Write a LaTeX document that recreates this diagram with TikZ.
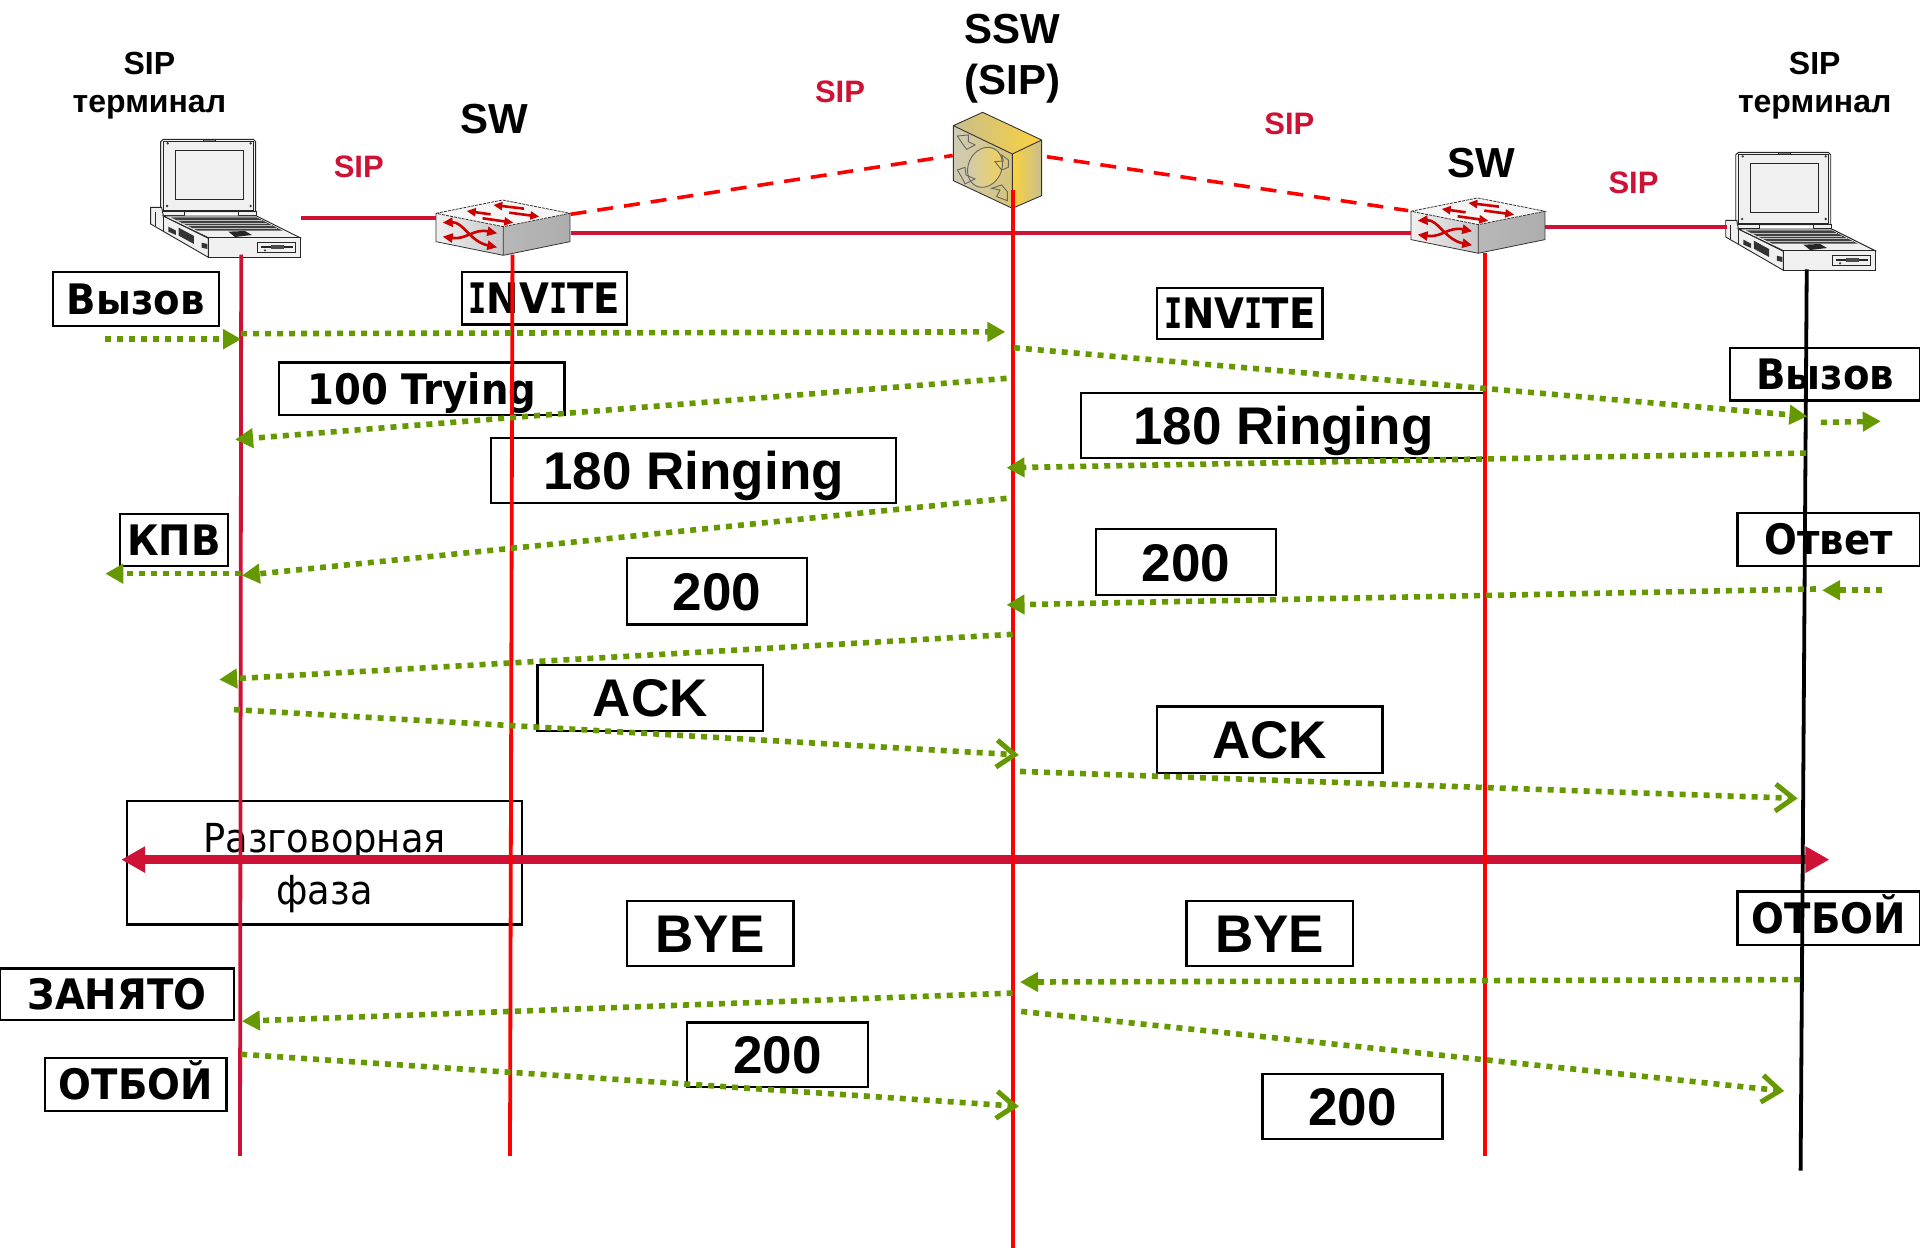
\documentclass[tikz,border=0pt]{standalone}
\usepackage{fontspec}
\setmainfont{Liberation Sans}
\newfontfamily\tah[FakeStretch=0.92]{DejaVu Sans}
\newfontfamily\tahI[FakeStretch=0.72]{DejaVu Sans Mono}
\usetikzlibrary{arrows.meta}
\definecolor{crim}{HTML}{CE1236}
\definecolor{grn}{HTML}{669900}
\definecolor{goldA}{HTML}{FBD23C}
\definecolor{goldB}{HTML}{CFCBB4}
\definecolor{goldC}{HTML}{C8BE90}
\tikzset{
  x=1.2245pt,y=-1.2245pt,
  boxbase/.style={draw=black,fill=white,line width=2.2pt,inner sep=0pt,align=center},
  boxA/.style={boxbase,font=\bfseries\fontsize{53}{60}\selectfont,text height=38pt,text depth=0pt},
  boxT/.style={boxbase,font=\tah\bfseries\fontsize{42}{48}\selectfont,text height=31pt,text depth=0pt},
  boxP/.style={boxbase,font=\tah\fontsize{40}{51.4}\selectfont},
  head/.style={font=\bfseries\fontsize{42}{51}\selectfont,align=center,inner sep=0pt},
  term/.style={font=\bfseries\fontsize{32}{38}\selectfont,align=center,inner sep=0pt},
  siplab/.style={font=\bfseries\fontsize{31}{36}\selectfont,text=crim,inner sep=0pt},
  life/.style={line width=3.8pt},
  link/.style={line width=4pt,draw=crim},
  ctrl/.style={line width=3.6pt,draw=red,dash pattern=on 16pt off 11pt},
  msgbase/.style={draw=grn,line width=5.6pt,dash pattern=on 6pt off 6pt},
  msgT/.style={msgbase,-{Triangle[length=18pt,width=19pt,fill=grn]}},
  msgO/.style={msgbase,-{Straight Barb[length=18pt,width=27pt,line width=5pt]}},
  talk/.style={draw=crim,line width=9pt,{Triangle[length=24pt,width=25pt]}-{Triangle[length=24pt,width=25pt]}},
  laptop/.pic={
    \begin{scope}[x=0.3333pt,y=-0.3333pt,line width=0.9pt,draw=black!85]
      \draw[fill=black!6] (182,125)--(190,118)--(460,118)--(467,125)--(467,335)--(182,335)--cycle;
      \draw[line width=.5pt] (190,125) rectangle (460,330);
      \draw[fill=black!6] (226,152) rectangle (431,298);
      \draw[fill=black!50] (310,118) rectangle (345,124);
      \foreach \px/\py in {203/130,452/130,201/318,452/318}
        \fill[black!80] (\px,\py) circle (1.3pt);
      \draw[fill=black!6] (187,335) rectangle (253,347);
      \draw[fill=black!6] (415,335) rectangle (470,347);
      \draw[fill=black!6] (152,322)--(185,322)--(190,348)--(325,415)--(325,472)--(152,372)--cycle;
      \draw (165,335)--(165,378) (190,348)--(190,392);
      \draw[fill=black!6] (190,348)--(470,348)--(600,413)--(325,413)--cycle;
      \fill[black!75] (212,352)--(470,352)--(548,392)--(292,392)--cycle;
      \foreach \k in {360,368,...,388} \draw[black!25,line width=.3pt] ({212+(\k-352)*2},\k)--({470+(\k-352)*1.95},\k);
      \fill[black!85] (385,395)--(435,393)--(456,405)--(405,411)--cycle;
      \draw[fill=black!6] (325,413) rectangle (600,472);
      \draw[fill=black!6] (473,428) rectangle (585,458);
      \draw[line width=1.3pt] (482,441)--(580,441);
      \fill[black!70] (512,436) rectangle (553,447);
      \fill[black!70] (495,451) circle (1.3pt);
      \fill[black!80] (205,380)--(228,392)--(228,405)--(205,395)--cycle;
      \fill[black!80] (236,383)--(282,408)--(282,432)--(236,407)--cycle;
      \fill[black!80] (305,428)--(322,432)--(322,447)--(305,443)--cycle;
    \end{scope}
  },
  switchbox/.pic={
    \begin{scope}[x=0.3333pt,y=-0.3333pt,line width=.8pt]
      \shade[left color=black!6,right color=black!22] (1008,340)--(1210,380)--(1210,466)--(1008,425)--cycle;
      \shade[left color=black!28,middle color=black!6,right color=black!32] (1210,380)--(1410,340)--(1410,425)--(1210,466)--cycle;
      \fill[black!4] (1008,340)--(1208,300)--(1410,340)--(1210,380)--cycle;
      \draw[black!80,dash pattern=on 3pt off 1pt] (1008,340)--(1208,300)--(1410,340)--(1210,380)--cycle;
      \draw[black!80] (1008,340)--(1008,425)--(1210,466)--(1410,425)--(1410,340) (1210,380)--(1210,466);
      \begin{scope}[draw=red!80!black,fill=red!80!black,line width=2.6pt]
        \draw[{Triangle[length=10pt,width=9pt]}-{Triangle[length=10pt,width=9pt]}] (1028,368) .. controls (1090,365) and (1110,425) .. (1192,442);
        \draw[{Triangle[length=10pt,width=9pt]}-{Triangle[length=10pt,width=9pt]}] (1028,410) .. controls (1100,420) and (1120,385) .. (1192,400);
        \draw[{Triangle[length=9pt,width=8pt]}-] (1100,333)--(1172,343);
        \draw[{Triangle[length=9pt,width=8pt]}-] (1180,315)--(1272,326);
        \draw[-{Triangle[length=9pt,width=8pt]}] (1148,355)--(1240,368);
        \draw[-{Triangle[length=9pt,width=8pt]}] (1228,338)--(1318,350);
      \end{scope}
    \end{scope}
  },
  softsw/.pic={
    \begin{scope}[x=0.3333pt,y=-0.3333pt,line width=1pt]
      \shade[left color=goldC,right color=goldA] (160,137)--(248,97)--(425,180)--(337,222)--cycle;
      \shade[left color=goldA,right color=goldC] (337,222)--(425,180)--(425,347)--(337,385)--cycle;
      \shade[left color=goldB,right color=goldC!70!goldA] (160,137)--(337,222)--(337,385)--(160,302)--cycle;
      \draw[black!80,line width=.9pt] (160,137)--(248,97)--(425,180)--(425,347)--(337,385)--(160,302)--cycle (160,137)--(337,222)--(425,180) (337,222)--(337,385);
      \shade[left color=goldB,right color=goldA!80!goldB,rotate around={-25:(255,262)}] (255,262) ellipse [x radius=50,y radius=62];
      \draw[black!60,line width=.9pt,rotate around={-25:(255,262)}] (255,262) ellipse [x radius=50,y radius=62];
      \draw[black!60,line width=.9pt] (172,168)--(205,165)--(205,185)--(225,195)--(200,208)--(190,195)--cycle
        (325,240)--(305,225)--(310,243)--(285,245)--(305,270)--(325,262)--cycle
        (172,270)--(195,262)--(198,285)--(225,297)--(195,312)--(185,292)--cycle
        (322,362)--(290,350)--(300,330)--(275,325)--(305,315)--(322,335)--cycle;
    \end{scope}
  }
}
\newcommand{\boxlab}[7]{%
  \pgfmathsetlengthmacro\bw{(#4-#2)*1.2245pt}%
  \pgfmathsetlengthmacro\bh{(#5-#3)*1.2245pt}%
  \node[#6,minimum width=\bw,minimum height=\bh] (#1) at ({(#2+#4)/2},{(#3+#5)/2}) {#7};}
\newcommand{\msg}[6]{%
  \coordinate (#2a) at (#3,#4);
  \coordinate (#2b) at (#5,#6);
  \draw[#1] (#2a) -- (#2b);}
\begin{document}
\begin{tikzpicture}
\useasboundingbox (0,0) rectangle (1568,1019.2);
% label boxes
\boxlab{callL}{43}{222}{179}{266}{boxT}{Вызов}
\boxlab{invL}{377}{222}{512}{265}{boxT}{{\tahI I}NV{\tahI I}TE}
\boxlab{tryL}{228}{296}{461}{339}{boxT}{100 Trying}
\boxlab{ringL}{401}{358}{732}{411}{boxA}{180 Ringing}
\boxlab{invR}{945}{235}{1080}{277}{boxT}{{\tahI I}NV{\tahI I}TE}
\boxlab{callR}{1413}{284}{1568}{327}{boxT}{Вызов}
\boxlab{ringR}{883}{321}{1213}{374}{boxA}{180 Ringing}
\boxlab{kpv}{98}{420}{186}{462}{boxT}{КПВ}
\boxlab{okL}{512}{456}{659}{510}{boxA}{200}
\boxlab{okR}{895}{432}{1042}{486}{boxA}{200}
\boxlab{ans}{1419}{419}{1568}{462}{boxT}{Ответ}
\boxlab{ackL}{439}{543}{623}{597}{boxA}{ACK}
\boxlab{ackR}{945}{577}{1129}{631}{boxA}{ACK}
\boxlab{phase}{104}{654}{426}{755}{boxP}{\rule{0pt}{40pt}Разговорная\\фаза}
\boxlab{hangR}{1419}{728}{1568}{772}{boxT}{ОТБОЙ}
\boxlab{byeL}{512}{736}{648}{789}{boxA}{BYE}
\boxlab{byeR}{969}{736}{1105}{789}{boxA}{BYE}
\boxlab{busy}{0}{791}{191}{833}{boxT}{ЗАНЯТО}
\boxlab{hangL}{37}{864}{185}{907}{boxT}{ОТБОЙ}
\boxlab{okL2}{561}{835}{709}{888}{boxA}{200}
\boxlab{okR2}{1031}{877}{1178}{930}{boxA}{200}
% headings
\node[term] (t1) at (122,70) {SIP\\терминал};
\node[term] (t2) at (1482,70) {SIP\\терминал};
\node[head] (ssw) at (827,48) {SSW\\(SIP)};
\node[head] (sw1t) at (404,97) {SW};
\node[head] (sw2t) at (1210,133) {SW};
\node[siplab] (s1) at (293,136) {SIP};
\node[siplab] (s2) at (686,75) {SIP};
\node[siplab] (s3) at (1053,101) {SIP};
\node[siplab] (s4) at (1334,149) {SIP};
% devices
\pic (lap1) at (81.67,81.67) {laptop};
\pic (lap2) at (1368,92.3) {laptop};
\pic (sw1) at (81.67,81.67) {switchbox};
\pic (sw2) at (877.9,80) {switchbox};
\pic (softsw) at (735,65.33) {softsw};
% network links
\coordinate (lap1e) at (246,178);
\coordinate (sw1w) at (356,178);
\coordinate (sw1e) at (466,190);
\coordinate (sw2w) at (1152,190);
\coordinate (sw2e) at (1262,185);
\coordinate (lap2w) at (1410,185);
\coordinate (sw1ne) at (466,175);
\coordinate (sswW) at (778,127);
\coordinate (sswE) at (855,128);
\coordinate (sw2nw) at (1150,172);
\draw[link] (lap1e) -- (sw1w);
\draw[link] (sw1e) -- (sw2w);
\draw[link] (sw2e) -- (lap2w);
\draw[ctrl] (sw1ne) -- (sswW);
\draw[ctrl] (sswE) -- (sw2nw);
% speech phase
\coordinate (talkL) at (99,702);
\coordinate (talkR) at (1494,702);
\draw[talk] (talkL) -- (talkR);
% lifelines
\coordinate (l1a) at (197,208); \coordinate (l1b) at (196,944);
\coordinate (l2a) at (418.5,208); \coordinate (l2b) at (416.5,944);
\coordinate (l3a) at (827,155); \coordinate (l3b) at (827,1019.2);
\coordinate (l4a) at (1212.5,207); \coordinate (l4b) at (1212.5,944);
\coordinate (l5a) at (1475.5,220); \coordinate (l5b) at (1470.5,956);
\draw[life,draw=crim] (l1a) -- (l1b);
\draw[life,draw=red] (l2a) -- (l2b);
\draw[life,draw=red] (l3a) -- (l3b);
\draw[life,draw=red] (l4a) -- (l4b);
\draw[life,draw=black] (l5a) -- (l5b);
% messages
\msg{msgT}{m1}{86}{277}{197}{277}
\msg{msgT}{m2}{197}{272.5}{821}{271}
\msg{msgT}{m3}{828}{284}{1476}{340}
\msg{msgT}{m4}{1487}{345}{1536}{344}
\msg{msgT}{m5}{822}{309}{192}{359}
\msg{msgT}{m6}{1475}{370}{822}{382}
\msg{msgT}{m7}{822}{407}{197.5}{470}
\msg{msgT}{m8}{197}{468.5}{86}{468.5}
\msg{msgT}{m9}{1537}{482}{1488}{482}
\msg{msgT}{m10}{1483}{481}{822}{494}
\msg{msgT}{m11}{827}{518}{179}{555}
\msg{msgO}{m12}{191}{579.5}{832}{616.5}
\msg{msgO}{m13}{833}{630}{1468}{652}
\msg{msgT}{m14}{1470}{800}{833}{802}
\msg{msgT}{m15}{827}{811}{197.5}{834}
\msg{msgO}{m16}{197}{861}{832}{903.5}
\msg{msgO}{m17}{834}{826}{1457}{891}
\end{tikzpicture}
\end{document}
